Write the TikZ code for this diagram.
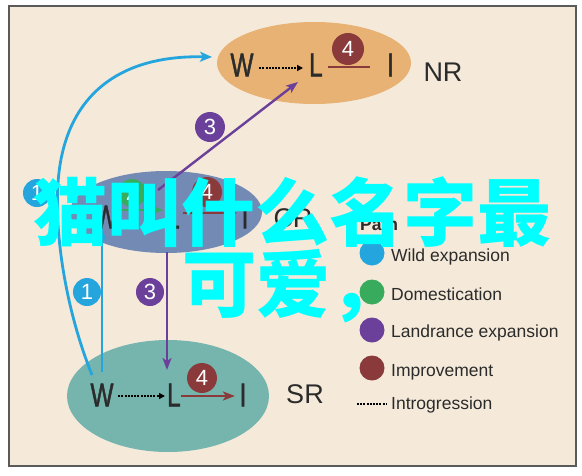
\documentclass[tikz,border=0pt]{standalone}
\usepackage{fontspec}
\setmainfont{Liberation Sans}
\newfontfamily\condfont{Liberation Sans}[FakeStretch=0.74, FakeBold=1.3]
\newfontfamily\cjk{Noto Sans CJK SC}
\usetikzlibrary{arrows.meta,shapes.geometric}
\definecolor{bgc}{HTML}{F5EADA}
\definecolor{framec}{HTML}{5A5A5A}
\definecolor{nrfill}{HTML}{E8B274}
\definecolor{crfill}{HTML}{738AB5}
\definecolor{srfill}{HTML}{76B5AD}
\definecolor{wildc}{HTML}{25A5DD}
\definecolor{domc}{HTML}{38AB5C}
\definecolor{landc}{HTML}{6A409A}
\definecolor{imprc}{HTML}{8B3A3C}
\definecolor{txtc}{HTML}{2B2B2B}
\definecolor{cyanc}{HTML}{00FFFF}
\tikzset{
  region/.style={ellipse, inner sep=0pt},
  letter/.style={inner sep=0pt, text=txtc, font=\condfont\fontsize{33}{33}\selectfont},
  rlabel/.style={inner sep=0pt, text=txtc, font=\fontsize{27}{27}\selectfont},
  numc/.style={circle, inner sep=0pt, minimum size=#1, text=white, font=\fontsize{22}{22}\selectfont},
  numc/.default=30pt,
  legdot/.style={circle, inner sep=0pt, minimum size=25pt},
  legtext/.style={anchor=base west, inner sep=0pt, text=txtc, font=\fontsize{17.5}{17.5}\selectfont},
  intro/.style={line width=2pt, dash pattern=on 2pt off 1.2pt},
  introarrow/.style={intro, -{Triangle[length=6pt,width=6pt]}},
  colarrow/.style={line width=2.4pt, -{Stealth[length=12pt,width=9pt,inset=3pt]}},
  cjktext/.style={anchor=base, inner sep=0pt, text=cyanc, font=\cjk\bfseries\fontsize{74}{74}\selectfont},
}
\begin{document}
\begin{tikzpicture}[x=1pt,y=-1pt]
\useasboundingbox (0,0) rectangle (582,475);
\fill[white] (0,0) rectangle (582,475);
\fill[bgc] (9,6) rectangle (576,466);
\draw[framec, line width=1.5pt] (9,6) rectangle (576,466);

% regions
\node[region, fill=nrfill, minimum width=194pt, minimum height=82pt] (nr) at (314,63) {};
\node[region, fill=crfill, minimum width=192pt, minimum height=82pt] (cr) at (166,212) {};
\node[region, fill=srfill, minimum width=202pt, minimum height=112pt] (sr) at (168,396) {};

% NR letters
\node[letter] (nrW) at (242,65) {W};
\node[letter] (nrL) at (316,65) {L};
\node[letter] (nrI) at (390.5,65) {I};
\node[rlabel] (nrlab) at (443,72) {NR};
% CR letters
\node[letter] (crW) at (106,217) {W};
\node[letter] (crL) at (173,217) {L};
\node[letter] (crI) at (245,217) {I};
\node[rlabel] (crlab) at (293,218) {CR};
% SR letters
\node[letter] (srW) at (102,395) {W};
\node[letter] (srL) at (174,395) {L};
\node[letter] (srI) at (243,395) {I};
\node[rlabel] (srlab) at (305,394) {SR};

% within-region connectors
\draw[introarrow, black, shorten <=5.5pt, shorten >=6pt] ([yshift=-3pt]nrW.east) -- ([yshift=-3pt]nrL.west);
\draw[imprc, line width=2.4pt, shorten <=5pt, shorten >=17pt] ([yshift=-2pt]nrL.east) -- ([yshift=-2pt]nrI.west);
\draw[domc, colarrow, shorten <=2.5pt, shorten >=3pt] ([yshift=7pt]crW.east) -- ([yshift=7pt]crL.west);
\draw[imprc, colarrow, shorten <=3pt, shorten >=4.5pt] ([yshift=4pt]crL.east) -- ([yshift=4pt]crI.west);
\draw[introarrow, black, shorten <=4.5pt, shorten >=2pt] ([yshift=-1pt]srW.east) -- ([yshift=-1pt]srL.west);
\draw[imprc, colarrow, shorten >=4.5pt] ([yshift=-1pt]srL.east) -- ([yshift=-1pt]srI.west);

% between-region connectors
\coordinate (curveStart) at (92,375);
\coordinate (curveEnd) at (212,57);
\draw[wildc, line width=2.8pt, -{Stealth[length=12pt,width=10pt,inset=3pt]}] (curveStart) .. controls (62,300) and (52,215) .. (60,165) .. controls (72,90) and (125,55) .. (curveEnd);
\draw[wildc, colarrow] ([yshift=11pt]srW.north) -- (srW.north |- crW.south);
\coordinate (p3a) at (158,190);
\coordinate (p3b) at (298,82);
\draw[landc, colarrow] (p3a) -- (p3b);
\coordinate (p3c) at (167,252);
\coordinate (p3d) at (167,370);
\draw[landc, colarrow] (p3c) -- (p3d);

% numbered circles
\node[numc=32pt, fill=imprc] (n4a) at (348,49) {4};
\node[numc=30pt, fill=landc] (n3a) at (210,127) {3};
\node[numc=28pt, fill=domc] (n2) at (132,193) {2};
\node[numc=30pt, fill=imprc] (n4b) at (207,192) {4};
\node[numc=28pt, fill=wildc] (n1a) at (37,193) {1};
\node[numc=28pt, fill=wildc] (n1b) at (87,292) {1};
\node[numc=28pt, fill=landc] (n3b) at (150,292) {3};
\node[numc=30pt, fill=imprc] (n4c) at (202,378) {4};

% legend
\node[anchor=base west, inner sep=0pt, text=txtc, font=\bfseries\fontsize{17.5}{17.5}\selectfont] (legtitle) at (360,230) {Path};
\node[legdot, fill=wildc] (ld1) at (372,253) {};
\node[legtext] (lt1) at (391,261) {Wild expansion};
\node[legdot, fill=domc] (ld2) at (372,292) {};
\node[legtext] (lt2) at (391,300) {Domestication};
\node[legdot, fill=landc] (ld3) at (372,330) {};
\node[legtext] (lt3) at (391,337.5) {Landrance expansion};
\node[legdot, fill=imprc] (ld4) at (372,368) {};
\node[legtext] (lt4) at (391,376) {Improvement};
\coordinate (li1) at (357,404);
\coordinate (li2) at (387,404);
\draw[intro, black] (li1) -- (li2);
\node[legtext] (lt5) at (391,409) {Introgression};

% overlay text
\node[cjktext] (cjk1) at (293,240) {猫叫什么名字最};
\node[cjktext] (cjk2) at (293,311) {可爱，};
\end{tikzpicture}
\end{document}
